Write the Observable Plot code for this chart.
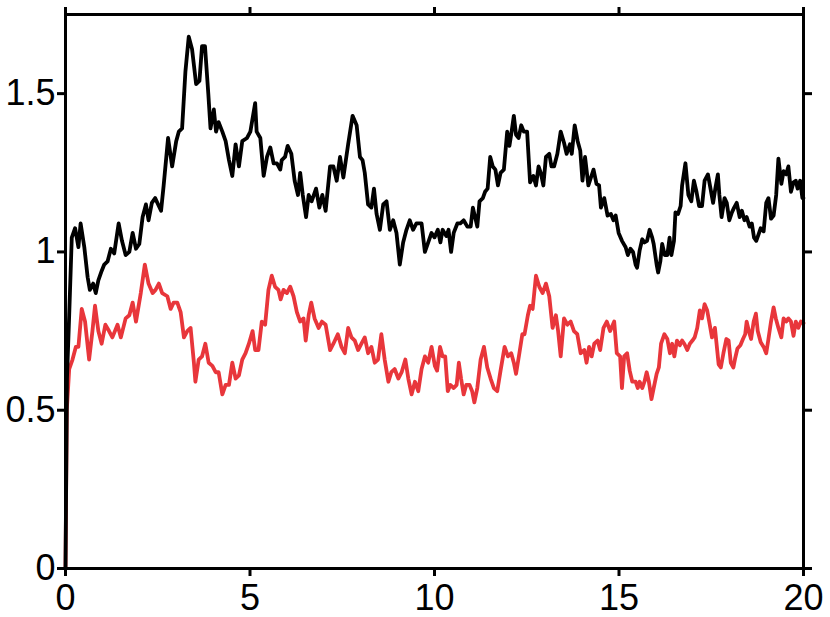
<!DOCTYPE html>
<html>
<head>
<meta charset="utf-8">
<script src="https://cdn.jsdelivr.net/npm/d3@7"></script>
<script src="https://cdn.jsdelivr.net/npm/@observablehq/plot@0.6"></script>
<style>
  html, body { margin: 0; padding: 0; background: #fff; }
  #chart svg { display: block; }
</style>
</head>
<body>
<div id="chart"></div>
<script>
const blackT = [0,0.04,0.10,0.17,0.26,0.35,0.41,0.51,0.60,0.66,0.75,0.82,0.89,0.98,1.05,1.14,1.23,1.32,1.44,1.53,1.63,1.73,1.82,1.91,2.00,2.09,2.18,2.25,2.34,2.43,2.51,2.59,2.66,2.78,2.89,3.00,3.07,3.16,3.25,3.34,3.43,3.54,3.63,3.70,3.78,3.87,3.93,4.02,4.08,4.15,4.25,4.34,4.43,4.52,4.61,4.70,4.79,4.92,5.01,5.14,5.18,5.28,5.37,5.46,5.55,5.64,5.73,5.82,5.86,5.95,6.02,6.12,6.21,6.30,6.36,6.43,6.52,6.59,6.67,6.79,6.88,6.96,7.05,7.17,7.26,7.35,7.44,7.53,7.66,7.78,7.89,7.98,8.05,8.11,8.20,8.29,8.36,8.43,8.52,8.61,8.70,8.79,8.88,8.97,9.06,9.15,9.24,9.33,9.42,9.51,9.65,9.74,9.83,9.92,10.00,10.09,10.16,10.22,10.32,10.38,10.45,10.52,10.62,10.70,10.79,10.89,10.98,11.04,11.10,11.16,11.22,11.31,11.37,11.44,11.51,11.58,11.65,11.72,11.79,11.88,11.97,12.03,12.09,12.15,12.21,12.28,12.35,12.42,12.51,12.59,12.68,12.75,12.82,12.88,12.95,13.02,13.11,13.17,13.24,13.33,13.42,13.51,13.58,13.67,13.72,13.80,13.88,13.95,14.01,14.08,14.17,14.24,14.31,14.39,14.46,14.51,14.60,14.69,14.78,14.85,14.91,14.99,15.08,15.18,15.24,15.31,15.38,15.45,15.49,15.56,15.63,15.69,15.76,15.83,15.90,15.94,16.02,16.06,16.12,16.17,16.24,16.31,16.37,16.42,16.49,16.53,16.60,16.67,16.71,16.80,16.88,16.96,17.03,17.10,17.17,17.25,17.32,17.41,17.48,17.55,17.61,17.68,17.72,17.78,17.86,17.92,17.99,18.06,18.12,18.19,18.27,18.33,18.40,18.46,18.54,18.60,18.66,18.72,18.78,18.84,18.92,18.99,19.05,19.12,19.19,19.26,19.32,19.40,19.46,19.53,19.59,19.66,19.73,19.79,19.84,19.91,19.97,20.00];
const blackV = [0,0.60,0.80,1.045,1.075,1.015,1.09,1.015,0.92,0.88,0.90,0.87,0.91,0.94,0.96,0.97,1.01,0.995,1.09,1.035,0.99,1.00,1.06,1.01,1.025,1.11,1.15,1.10,1.155,1.17,1.15,1.13,1.21,1.36,1.27,1.35,1.38,1.39,1.57,1.68,1.64,1.53,1.54,1.65,1.65,1.50,1.39,1.45,1.38,1.41,1.38,1.35,1.29,1.24,1.34,1.27,1.35,1.36,1.38,1.47,1.38,1.36,1.24,1.30,1.33,1.28,1.28,1.26,1.29,1.30,1.335,1.31,1.225,1.18,1.25,1.18,1.11,1.18,1.16,1.20,1.14,1.18,1.13,1.27,1.27,1.225,1.30,1.235,1.34,1.43,1.40,1.30,1.29,1.25,1.15,1.14,1.20,1.12,1.07,1.15,1.16,1.07,1.10,1.06,0.96,1.03,1.07,1.10,1.07,1.09,1.09,1.00,1.03,1.06,1.046,1.07,1.03,1.07,1.05,1.07,1.00,1.06,1.09,1.09,1.10,1.08,1.08,1.14,1.11,1.08,1.16,1.17,1.19,1.20,1.30,1.27,1.26,1.21,1.25,1.26,1.38,1.335,1.38,1.43,1.37,1.36,1.40,1.38,1.38,1.22,1.24,1.21,1.27,1.25,1.21,1.30,1.31,1.27,1.27,1.31,1.38,1.345,1.31,1.34,1.31,1.40,1.35,1.32,1.225,1.30,1.21,1.235,1.26,1.215,1.21,1.14,1.17,1.115,1.12,1.10,1.115,1.06,1.035,1.015,0.99,1.01,1.00,0.96,0.95,1.005,1.04,1.03,1.035,1.07,1.045,1.025,0.96,0.935,0.97,1.025,0.99,0.99,1.045,0.99,1.035,1.125,1.12,1.145,1.21,1.28,1.18,1.16,1.225,1.19,1.145,1.145,1.225,1.245,1.20,1.155,1.20,1.245,1.18,1.11,1.17,1.155,1.10,1.125,1.14,1.155,1.11,1.13,1.10,1.11,1.08,1.09,1.045,1.035,1.055,1.075,1.065,1.155,1.17,1.105,1.115,1.18,1.295,1.215,1.255,1.245,1.27,1.19,1.22,1.225,1.20,1.225,1.17,1.17];

const redT = [0,0.035,0.10,0.19,0.28,0.35,0.44,0.53,0.64,0.73,0.80,0.89,0.98,1.08,1.18,1.27,1.41,1.50,1.63,1.73,1.82,1.91,2.04,2.15,2.25,2.36,2.44,2.53,2.62,2.76,2.85,2.93,3.03,3.12,3.21,3.30,3.39,3.48,3.52,3.61,3.70,3.79,3.88,3.98,4.07,4.15,4.25,4.34,4.43,4.52,4.61,4.70,4.79,4.88,4.97,5.07,5.14,5.23,5.32,5.41,5.50,5.59,5.68,5.77,5.83,5.91,6.00,6.09,6.18,6.27,6.36,6.45,6.51,6.59,6.66,6.75,6.86,6.95,7.05,7.17,7.26,7.38,7.48,7.57,7.66,7.75,7.84,7.93,8.02,8.11,8.20,8.29,8.38,8.47,8.56,8.65,8.75,8.83,8.92,9.02,9.11,9.21,9.29,9.38,9.47,9.56,9.65,9.74,9.83,9.92,10.01,10.07,10.15,10.22,10.29,10.36,10.43,10.52,10.60,10.66,10.72,10.79,10.86,10.95,11.02,11.08,11.16,11.25,11.34,11.43,11.52,11.61,11.70,11.79,11.90,11.99,12.08,12.15,12.21,12.30,12.38,12.44,12.53,12.59,12.66,12.75,12.84,12.93,13.02,13.11,13.20,13.29,13.35,13.42,13.51,13.60,13.69,13.78,13.87,13.96,14.06,14.12,14.19,14.26,14.33,14.42,14.49,14.58,14.67,14.76,14.87,14.94,15.03,15.08,15.14,15.22,15.29,15.36,15.45,15.51,15.56,15.63,15.69,15.75,15.81,15.88,15.94,16.02,16.08,16.14,16.23,16.31,16.38,16.44,16.50,16.57,16.65,16.71,16.77,16.85,16.92,16.99,17.05,17.12,17.19,17.25,17.32,17.39,17.46,17.52,17.60,17.70,17.76,17.83,17.91,17.97,18.03,18.10,18.15,18.21,18.29,18.36,18.42,18.46,18.53,18.58,18.65,18.71,18.76,18.84,18.92,18.99,19.05,19.12,19.19,19.25,19.32,19.40,19.46,19.53,19.59,19.66,19.73,19.79,19.86,19.93,20.00];
const redV = [0,0.50,0.63,0.66,0.70,0.70,0.82,0.78,0.66,0.75,0.83,0.75,0.71,0.77,0.75,0.73,0.77,0.73,0.79,0.80,0.84,0.78,0.87,0.96,0.90,0.87,0.88,0.90,0.87,0.86,0.82,0.84,0.84,0.81,0.73,0.75,0.76,0.65,0.59,0.66,0.67,0.71,0.65,0.64,0.62,0.62,0.55,0.58,0.58,0.65,0.60,0.61,0.66,0.68,0.71,0.75,0.69,0.69,0.78,0.77,0.88,0.925,0.89,0.88,0.85,0.88,0.87,0.89,0.86,0.81,0.78,0.79,0.72,0.80,0.84,0.79,0.76,0.78,0.77,0.69,0.71,0.74,0.70,0.68,0.76,0.73,0.72,0.69,0.71,0.73,0.68,0.70,0.65,0.66,0.74,0.66,0.59,0.62,0.63,0.60,0.62,0.66,0.60,0.55,0.59,0.56,0.63,0.67,0.65,0.70,0.64,0.625,0.70,0.67,0.67,0.56,0.58,0.57,0.58,0.65,0.60,0.55,0.58,0.58,0.56,0.525,0.57,0.66,0.70,0.635,0.60,0.57,0.56,0.625,0.70,0.67,0.68,0.65,0.615,0.68,0.74,0.74,0.80,0.83,0.82,0.925,0.89,0.87,0.90,0.86,0.76,0.80,0.75,0.67,0.79,0.77,0.78,0.75,0.74,0.68,0.69,0.65,0.70,0.67,0.71,0.72,0.69,0.76,0.78,0.75,0.78,0.68,0.67,0.57,0.67,0.68,0.625,0.59,0.59,0.57,0.59,0.57,0.59,0.62,0.59,0.535,0.57,0.615,0.635,0.71,0.74,0.725,0.68,0.71,0.67,0.72,0.705,0.72,0.71,0.69,0.71,0.72,0.73,0.76,0.815,0.79,0.835,0.815,0.77,0.73,0.76,0.645,0.635,0.68,0.725,0.72,0.65,0.635,0.665,0.695,0.705,0.725,0.74,0.78,0.745,0.725,0.78,0.805,0.75,0.715,0.70,0.68,0.725,0.78,0.825,0.79,0.76,0.73,0.79,0.78,0.79,0.78,0.735,0.78,0.76,0.78,0.775];

const xTicks = [0, 5, 10, 15, 20];
const yTicks = [0, 0.5, 1, 1.5];
const yTickLabels = ["0", "0.5", "1", "1.5"];

const blackData = blackT.map((t, i) => ({t, v: blackV[i]}));
const redData = redT.map((t, i) => ({t, v: redV[i]}));

const font = "Liberation Sans, Arial, Helvetica, sans-serif";

const chart = Plot.plot({
  width: 830,
  height: 617,
  marginLeft: 65,
  marginRight: 27,
  marginTop: 14,
  marginBottom: 49,
  style: {fontFamily: font, background: "#fff", color: "#000"},
  x: {domain: [0, 20]},
  y: {domain: [0, 1.75]},
  marks: [
    Plot.line(redData, {x: "t", y: "v", stroke: "#e8363b", strokeWidth: 3.8, strokeLinejoin: "round", curve: "linear"}),
    Plot.line(blackData, {x: "t", y: "v", stroke: "#000", strokeWidth: 3.8, strokeLinejoin: "round", curve: "linear"}),
    Plot.frame({stroke: "#000", strokeWidth: 3}),
    Plot.axisX({anchor: "bottom", ticks: xTicks, tickSize: 8, tickPadding: 8, strokeWidth: 3, fontSize: 36, label: null, tickFormat: d => String(d)}),
    Plot.axisX({anchor: "top", ticks: xTicks, tickSize: 8, strokeWidth: 3, label: null, tickFormat: () => ""}),
    Plot.axisY({anchor: "left", ticks: yTicks, tickSize: 8, tickPadding: 2, strokeWidth: 3, fontSize: 36, label: null, tickFormat: d => yTickLabels[yTicks.indexOf(d)]}),
    Plot.axisY({anchor: "right", ticks: yTicks, tickSize: 8, strokeWidth: 3, label: null, tickFormat: () => ""})
  ]
});
d3.select(chart).selectAll('g[aria-label$="axis tick"]').attr("stroke-width", 3).attr("stroke-opacity", 1)
  .selectAll("path,line").attr("stroke-width", 3);
document.getElementById("chart").appendChild(chart);
</script>
</body>
</html>
